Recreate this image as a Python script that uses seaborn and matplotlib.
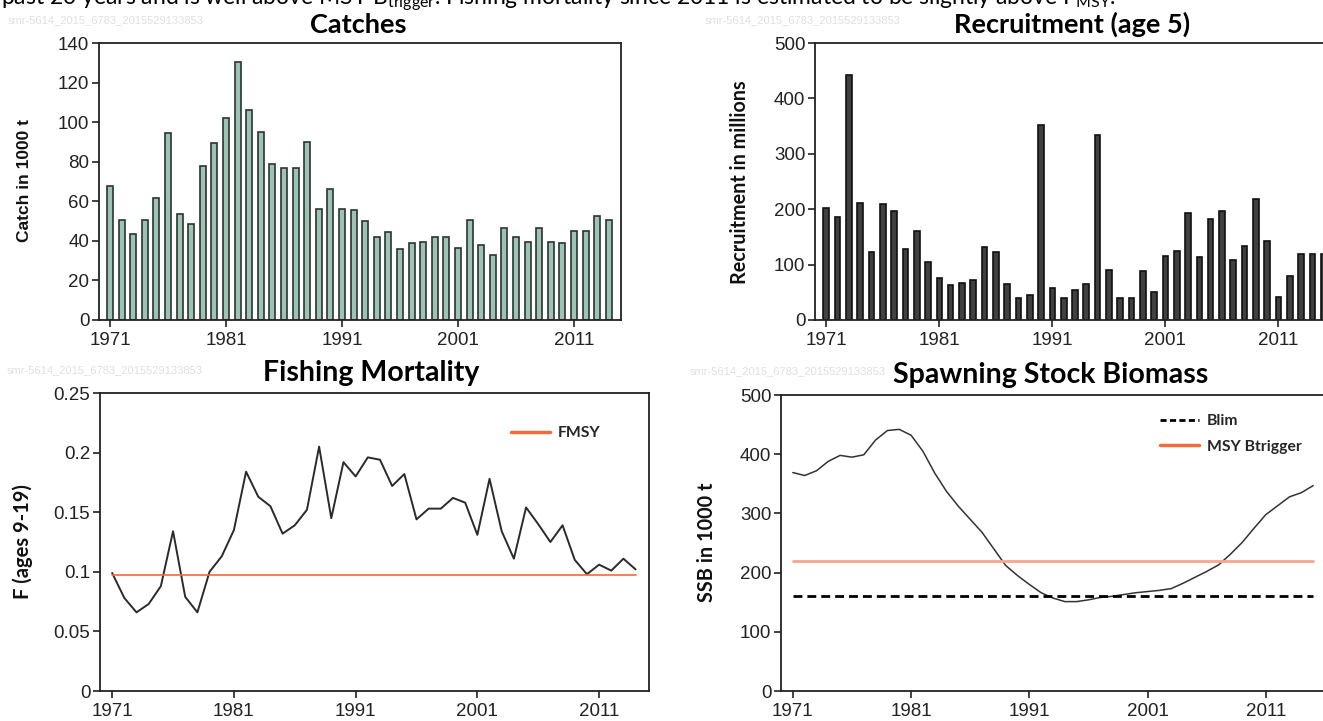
import numpy as np
import matplotlib
matplotlib.use('Agg')
import matplotlib.pyplot as plt
from matplotlib.lines import Line2D
from matplotlib.ticker import FuncFormatter
import seaborn as sns

# Data
catch_years = np.arange(1971, 2015)
catches = [67.6, 50.6, 43.5, 50.6, 61.9, 94.3, 53.5, 48.6, 77.6, 89.4,
           102.0, 130.2, 106.2, 94.8, 78.8, 76.7, 76.7, 90.0, 56.3, 66.1,
           56.3, 55.6, 49.9, 42.2, 44.4, 35.9, 38.8, 39.5, 42.2, 42.2,
           36.6, 50.6, 37.9, 32.9, 46.4, 42.2, 39.5, 46.4, 39.5, 38.8,
           45.0, 45.0, 52.8, 50.6]

rec_years = np.arange(1971, 2016)
recruitment = [203, 186, 443, 211, 123, 209, 196, 128, 161, 105,
               75, 63, 67, 73, 131, 123, 65, 40, 45, 352,
               58, 40, 55, 65, 334, 90, 40, 40, 88, 50,
               116, 125, 193, 113, 183, 196, 108, 133, 219, 143,
               42, 80, 120, 120, 120]

f_years = np.arange(1971, 2015)
fishing_mortality = [0.099, 0.078, 0.066, 0.073, 0.088, 0.134, 0.079, 0.066, 0.100, 0.113,
                     0.135, 0.184, 0.163, 0.155, 0.132, 0.139, 0.152, 0.205, 0.145, 0.192,
                     0.180, 0.196, 0.194, 0.172, 0.182, 0.144, 0.153, 0.153, 0.162, 0.158,
                     0.131, 0.178, 0.134, 0.111, 0.154, 0.140, 0.125, 0.139, 0.110, 0.098,
                     0.106, 0.101, 0.111, 0.102]

ssb_years = np.arange(1971, 2016)
ssb = [369, 364, 372, 388, 398, 395, 399, 424, 440, 442,
       432, 405, 368, 337, 312, 290, 268, 240, 212, 195,
       180, 166, 157, 151, 151, 154, 158, 160, 163, 166,
       168, 170, 173, 182, 192, 202, 213, 231, 251, 275,
       298, 313, 328, 335, 347]

FMSY = 0.097
BLIM = 160
MSY_BTRIGGER = 220

year_ticks = [1971, 1981, 1991, 2001, 2011]

sns.set_style('white')
plt.rcParams['font.family'] = ['Liberation Sans', 'DejaVu Sans']
plt.rcParams['mathtext.fontset'] = 'custom'
plt.rcParams['mathtext.rm'] = 'Lato'
plt.rcParams['mathtext.it'] = 'Lato:italic'
plt.rcParams['mathtext.bf'] = 'Lato:bold'

W, H = 1323, 721
fig = plt.figure(figsize=(W / 100, H / 100), dpi=100)


def px_axes(left, top, right, bottom):
    return fig.add_axes([left / W, 1 - bottom / H, (right - left) / W, (bottom - top) / H])


def style(ax, xlim, yticks, fmt=None):
    ax.set_xlim(*xlim)
    ax.set_xticks(year_ticks)
    ax.set_yticks(yticks)
    ax.set_ylim(yticks[0], yticks[-1])
    if fmt:
        ax.yaxis.set_major_formatter(FuncFormatter(fmt))
    ax.tick_params(direction='out', length=5, width=1.2, colors='#222222',
                   labelsize=13.5, left=True, bottom=True)
    ax.tick_params(axis='x', pad=3.5)
    ax.tick_params(axis='y', pad=2)
    for s in ax.spines.values():
        s.set_linewidth(1.3)
        s.set_color('#222222')
    ax.set_xlabel('')
    ax.set_ylabel('')


# Catches
ax1 = px_axes(99, 43, 621, 320)
sns.barplot(x=catch_years, y=catches, native_scale=True, width=0.52, color='#9dc3b5',
            saturation=1, edgecolor='#2b3330', linewidth=1.2, errorbar=None, ax=ax1)
style(ax1, (1970.05, 2015.05), np.arange(0, 141, 20))

# Recruitment
ax2 = px_axes(815, 43, 1335, 320)
sns.barplot(x=rec_years, y=recruitment, native_scale=True, width=0.5, color='#404040',
            saturation=1, edgecolor='#111111', linewidth=1.2, errorbar=None, ax=ax2)
style(ax2, (1970, 2016), np.arange(0, 501, 100))

# Fishing mortality
ax3 = px_axes(100, 393, 649, 691)
sns.lineplot(x=f_years, y=fishing_mortality, color='#2a2a2a', linewidth=1.4, ax=ax3)
ax3.plot(f_years, np.full(len(f_years), FMSY), color='#f26b3a', linewidth=1.2)
style(ax3, (1970, 2015.1), np.arange(0, 0.26, 0.05), fmt=lambda v, p: f'{v:g}')
ax3.legend(handles=[Line2D([], [], color='#f26b3a', linewidth=2.5)], labels=['FMSY'],
           loc='center left', bbox_to_anchor=(511 / W, 1 - 433 / H),
           bbox_transform=fig.transFigure, frameon=False, borderpad=0, borderaxespad=0,
           handlelength=2.5, handletextpad=0.5,
           prop=dict(family='Lato', weight='bold', size=11.3))

# SSB
ax4 = px_axes(781, 395, 1325, 691)
sns.lineplot(x=ssb_years, y=ssb, color='#333333', linewidth=1.1, ax=ax4)
ax4.plot(ssb_years, np.full(len(ssb_years), MSY_BTRIGGER), color='#f7a68c', linewidth=2.0)
ax4.plot(ssb_years, np.full(len(ssb_years), BLIM), color='black', linewidth=2.0,
         linestyle=(0, (3.2, 1.8)))
style(ax4, (1970, 2016), np.arange(0, 501, 100))
ax4.legend(handles=[Line2D([], [], color='black', linewidth=2.0, linestyle=(0, (2.2, 1.2))),
                    Line2D([], [], color='#f26b3a', linewidth=2.5)],
           labels=['Blim', 'MSY Btrigger'],
           loc='center left', bbox_to_anchor=(1160 / W, 1 - 434 / H),
           bbox_transform=fig.transFigure, frameon=False, borderpad=0, borderaxespad=0,
           handlelength=2.5, handletextpad=0.5, labelspacing=0.75,
           prop=dict(family='Lato', weight='bold', size=11.3))

# titles
title_kw = dict(family='Lato', weight='bold', color='black', ha='center', va='baseline')
fig.text(358 / W, 1 - 33 / H, 'Catches', fontsize=19.5, **title_kw)
fig.text(1072 / W, 1 - 33 / H, 'Recruitment (age 5)', fontsize=19.5, **title_kw)
fig.text(371 / W, 1 - 381 / H, 'Fishing Mortality', fontsize=20.5, **title_kw)
fig.text(1051 / W, 1 - 383 / H, 'Spawning Stock Biomass', fontsize=20.5, **title_kw)

# y labels
fig.text(25 / W, 1 - 181 / H, 'Catch in 1000 t', rotation=90, fontsize=12.5,
         weight='bold', ha='center', va='center', color='#111111')
fig.text(740 / W, 1 - 182 / H, 'Recruitment in millions', rotation=90, fontsize=14.2,
         family='Lato', weight='bold', ha='center', va='center', color='#111111')
fig.text(23 / W, 1 - 542 / H, 'F (ages 9-19)', rotation=90, fontsize=14.5,
         family='Lato', weight='bold', ha='center', va='center', color='#111111')
fig.text(707 / W, 1 - 542 / H, 'SSB in 1000 t', rotation=90, fontsize=14.3,
         family='Lato', weight='bold', ha='center', va='center', color='#111111')

# watermark ids
for x, y in [(8, 20), (705, 20), (7, 370), (690, 371)]:
    fig.text(x / W, 1 - y / H, 'smr-5614_2015_6783_2015529133853', fontsize=8,
             color='#e0e0e0', va='center')

# sentence cut off at the top edge
fig.text(1 / W, 1 - 4 / H,
         r'past 20 years and is well above MSY B$_\mathrm{trigger}$. Fishing mortality since 2011 '
         r'is estimated to be slightly above F$_\mathrm{MSY}$.',
         family='Lato', fontsize=16.5, color='black', va='baseline')

fig.savefig('out.png', dpi=100)
